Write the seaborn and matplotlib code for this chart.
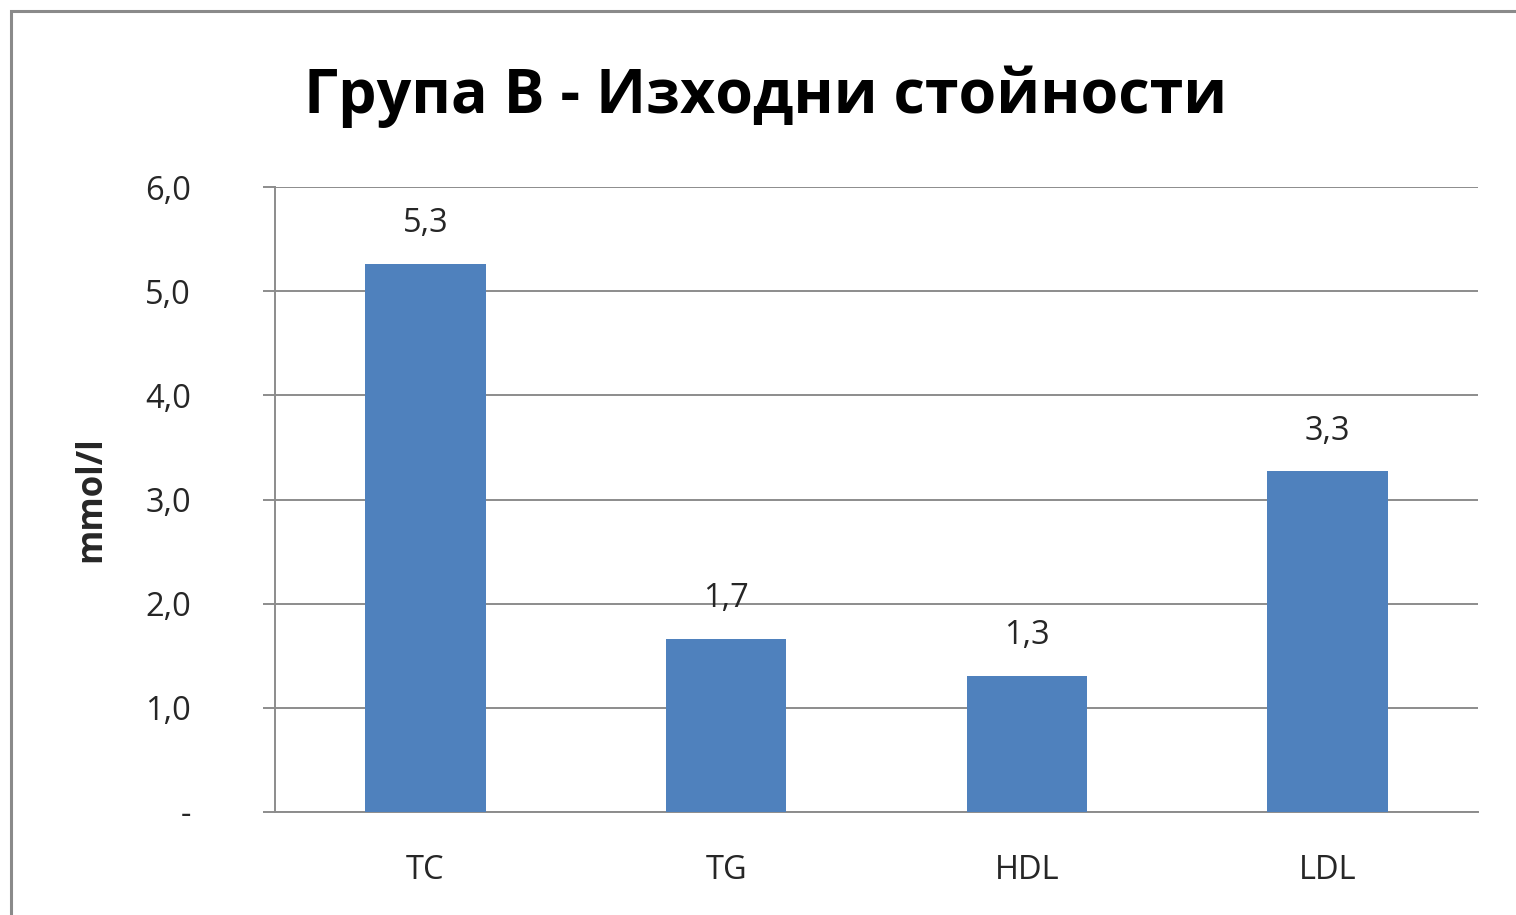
import matplotlib
matplotlib.use("Agg")
import matplotlib.pyplot as plt
import seaborn as sns
import pandas as pd
from matplotlib.patches import Rectangle

# Data
categories = ["TC", "TG", "HDL", "LDL"]
values = [5.26, 1.66, 1.31, 3.27]
y_ticks = [0, 1, 2, 3, 4, 5, 6]
y_tick_labels = ["-", "1,0", "2,0", "3,0", "4,0", "5,0", "6,0"]
title = "Група B - Изходни стойности"
y_label = "mmol/l"

df = pd.DataFrame({"cat": categories, "val": values})

sns.set_style("white")
plt.rcParams["font.family"] = ["Open Sans", "DejaVu Sans"]

fig = plt.figure(figsize=(15.16, 9.15), dpi=100)
ax = fig.add_axes([275 / 1516, 103 / 915, 1203 / 1516, 625 / 915])

grid_col = "#8c8c8c"
bar_col = "#4F81BD"

sns.barplot(data=df, x="cat", y="val", color=bar_col, saturation=1,
            width=0.4, linewidth=0, ax=ax, zorder=3)

ax.set_ylim(0, 6)
ax.set_xlim(-0.5, 3.5)
ax.set_yticks(y_ticks)
ax.set_yticklabels(y_tick_labels)
ax.yaxis.grid(True, color=grid_col, linewidth=1.4, zorder=0)
ax.set_axisbelow(True)

for s in ["top", "right"]:
    ax.spines[s].set_visible(False)
for s in ["left", "bottom"]:
    ax.spines[s].set_color(grid_col)
    ax.spines[s].set_linewidth(1.4)

ax.tick_params(axis="y", length=8.6, width=1.4, color=grid_col, pad=52,
               labelsize=23.5, labelcolor="#262626", left=True)
ax.tick_params(axis="x", length=0, pad=30, labelsize=23.5, labelcolor="#262626")
for lbl in ax.get_yticklabels():
    lbl.set_horizontalalignment("right")

ax.set_xlabel("")
ax.set_ylabel(y_label, fontsize=25, fontweight="bold")
ax.yaxis.set_label_coords(-0.138, 0.5)

# value labels
for i, v in enumerate(values):
    ax.annotate(f"{v:.1f}".replace(".", ","), (i, v), xytext=(0, 17),
                textcoords="offset points", ha="center", va="bottom",
                fontsize=23.5, color="#262626")

fig.text(0.505, 0.894, title, ha="center", va="center",
         fontsize=43.8, fontweight="bold", color="black")

# chart frame
fig.patches.append(Rectangle((11 / 1516, -0.1), 1.2, 1.1 - 11 / 915,
                             transform=fig.transFigure, fill=False,
                             edgecolor="#8a8a8a", linewidth=2.2, clip_on=False))

fig.savefig("out.png", dpi=100)
